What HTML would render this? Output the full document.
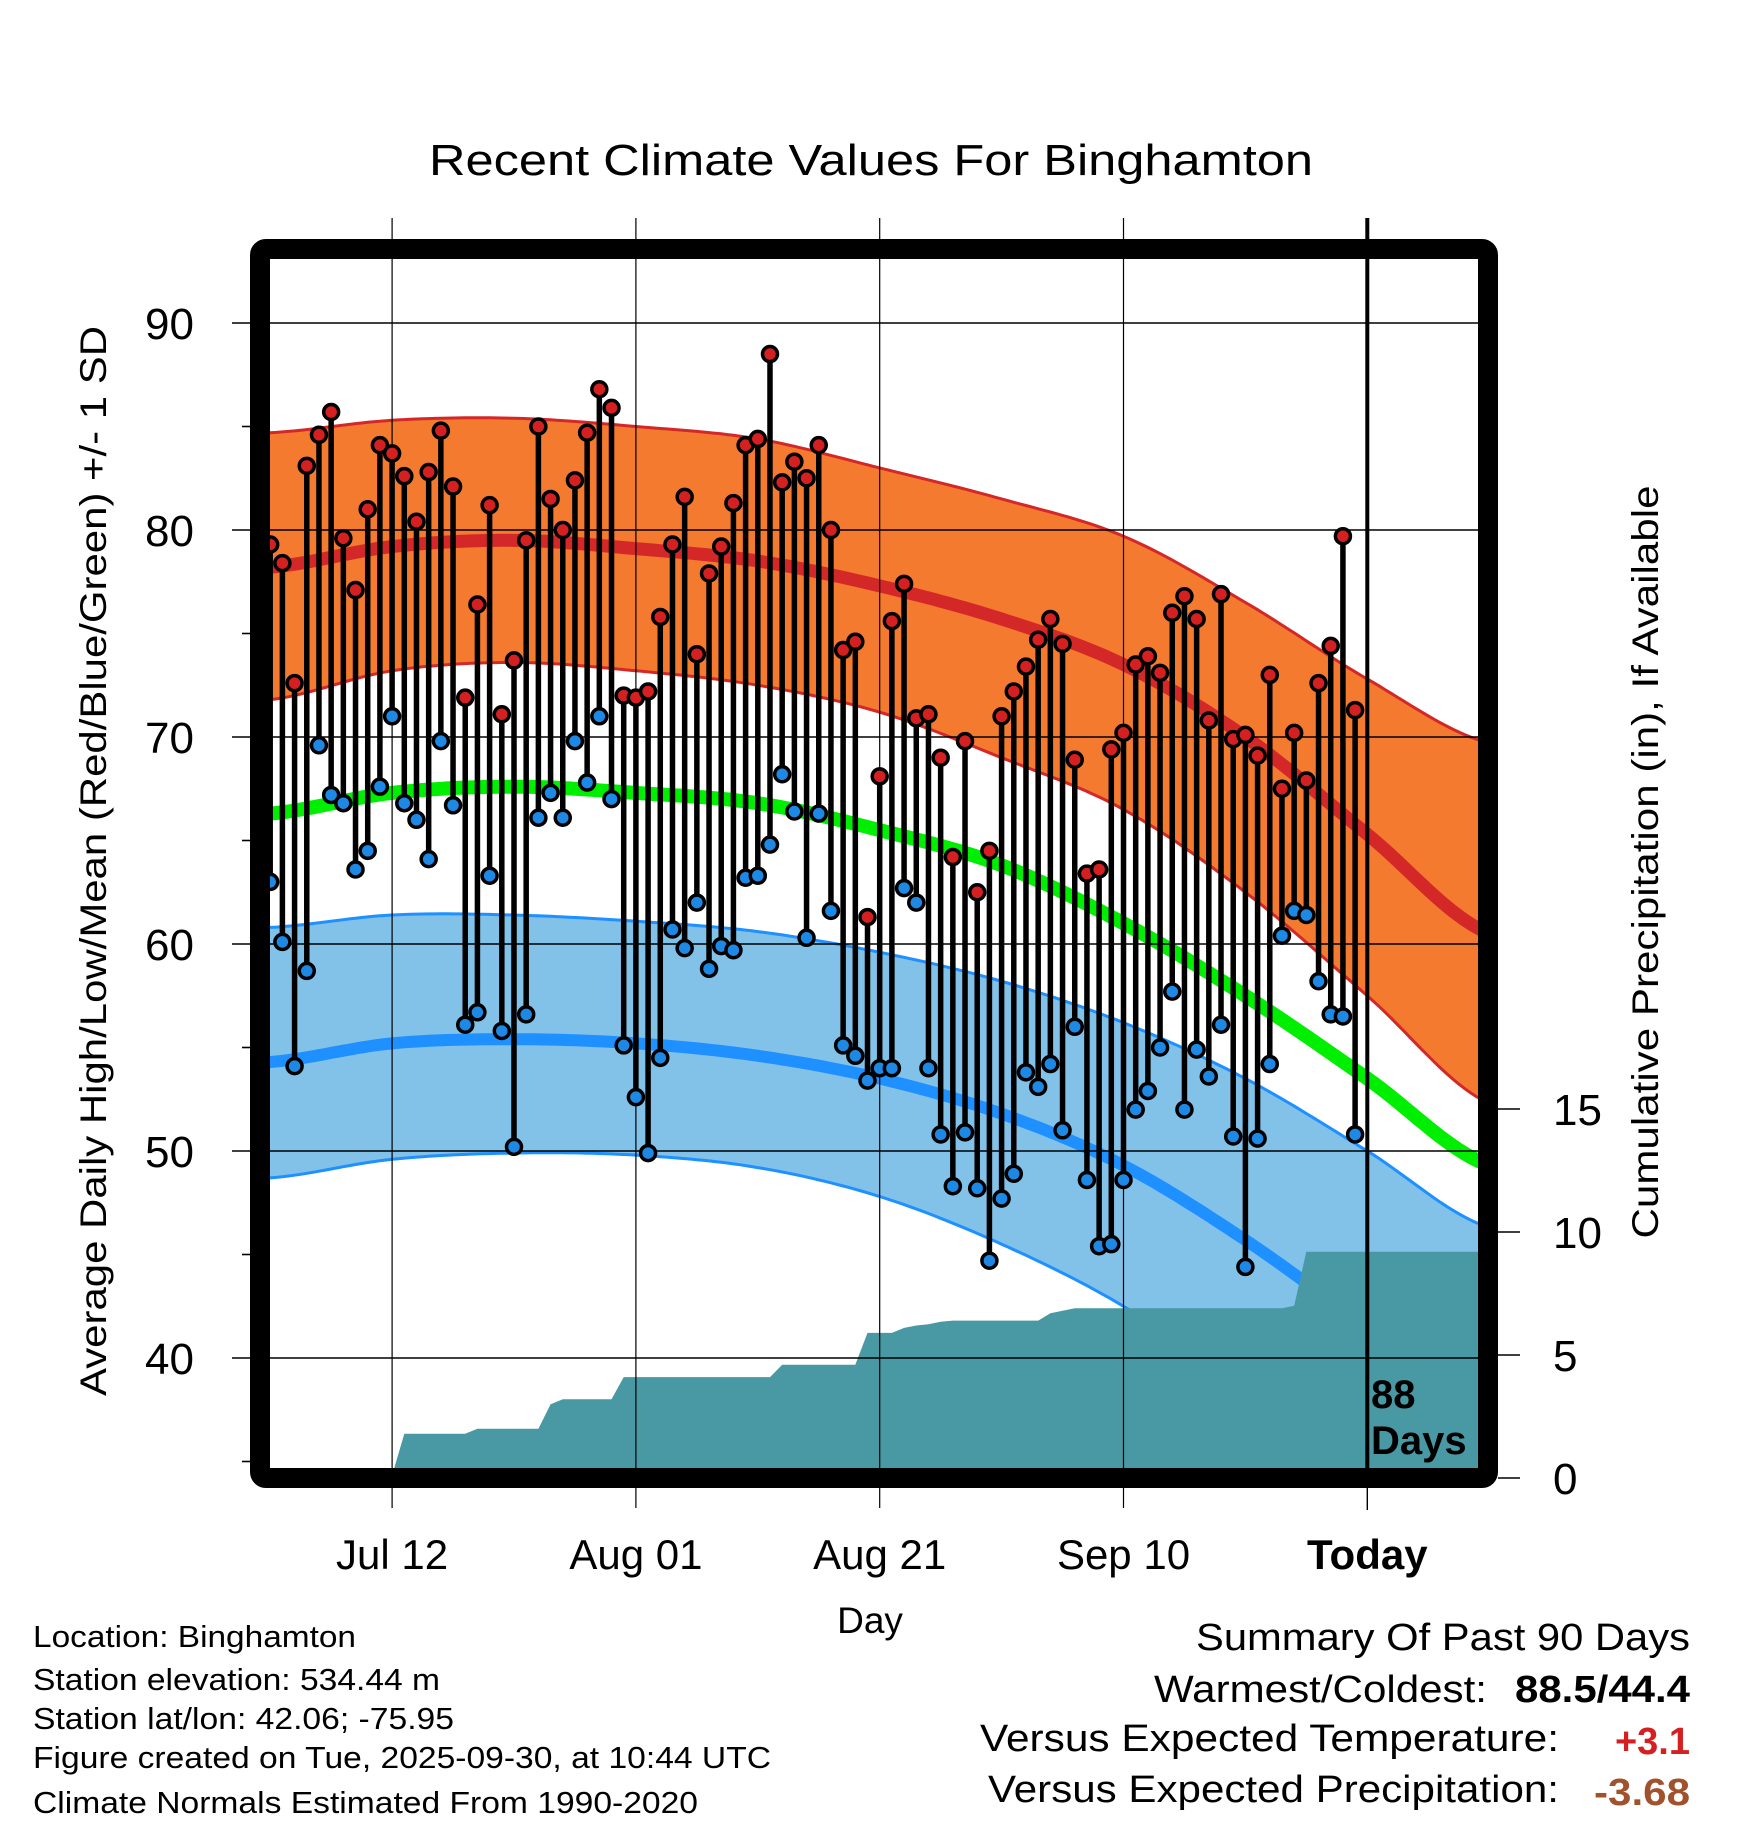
<!DOCTYPE html>
<html><head><meta charset="utf-8"><style>
html,body{margin:0;padding:0;background:#fff}
svg{display:block}
text{font-family:"Liberation Sans",Arial,sans-serif}
</style></head><body>
<svg id="chart" width="1748" height="1828" viewBox="0 0 1748 1828" xmlns="http://www.w3.org/2000/svg">
<defs><clipPath id="plotclip"><rect x="270" y="259" width="1208" height="1209"/></clipPath></defs>
<rect x="0" y="0" width="1748" height="1828" fill="#fff"/>
<text x="871" y="175" font-size="44" text-anchor="middle" textLength="884" lengthAdjust="spacingAndGlyphs">Recent Climate Values For Binghamton</text>
<g id="grid"></g>
<g id="plot" clip-path="url(#plotclip)"></g>
<g id="grid2"></g>
<g id="marks" clip-path="url(#plotclip)"></g>
<rect x="260" y="249" width="1228" height="1229" fill="none" stroke="#000" stroke-width="20" rx="6"/>
<g id="axes"></g>
<text transform="translate(106,861) rotate(-90)" font-size="37" text-anchor="middle" textLength="1070" lengthAdjust="spacingAndGlyphs">Average Daily High/Low/Mean (Red/Blue/Green) +/- 1 SD</text>
<text transform="translate(1658,862) rotate(-90)" font-size="37" text-anchor="middle" textLength="753" lengthAdjust="spacingAndGlyphs">Cumulative Precipitation (in), If Available</text>
<text x="870" y="1633" font-size="37" text-anchor="middle">Day</text>
<text x="1371" y="1408" font-size="40" font-weight="bold">88</text>
<text x="1371" y="1454" font-size="40" font-weight="bold">Days</text>
<g font-size="31">
<text x="33" y="1647" textLength="323" lengthAdjust="spacingAndGlyphs">Location: Binghamton</text>
<text x="33" y="1690" textLength="407" lengthAdjust="spacingAndGlyphs">Station elevation: 534.44 m</text>
<text x="33" y="1729" textLength="421" lengthAdjust="spacingAndGlyphs">Station lat/lon: 42.06; -75.95</text>
<text x="33" y="1768" textLength="738" lengthAdjust="spacingAndGlyphs">Figure created on Tue, 2025-09-30, at 10:44 UTC</text>
<text x="33" y="1813" textLength="665" lengthAdjust="spacingAndGlyphs">Climate Normals Estimated From 1990-2020</text>
</g>
<g font-size="38">
<text x="1690" y="1650" text-anchor="end" textLength="494" lengthAdjust="spacingAndGlyphs">Summary Of Past 90 Days</text>
<text x="1487" y="1702" text-anchor="end" textLength="333" lengthAdjust="spacingAndGlyphs">Warmest/Coldest:</text>
<text x="1690" y="1702" text-anchor="end" font-weight="bold" textLength="175" lengthAdjust="spacingAndGlyphs">88.5/44.4</text>
<text x="1559" y="1751" text-anchor="end" textLength="579" lengthAdjust="spacingAndGlyphs">Versus Expected Temperature:</text>
<text x="1690" y="1754" text-anchor="end" font-weight="bold" fill="#d42020" textLength="75" lengthAdjust="spacingAndGlyphs">+3.1</text>
<text x="1559" y="1802" text-anchor="end" textLength="571" lengthAdjust="spacingAndGlyphs">Versus Expected Precipitation:</text>
<text x="1690" y="1805" text-anchor="end" font-weight="bold" fill="#a0522d" textLength="96" lengthAdjust="spacingAndGlyphs">-3.68</text>
</g>
</svg>
<script>
var highs=[79.3,78.4,72.6,83.1,84.6,85.7,79.6,77.1,81.0,84.1,83.7,82.6,80.4,82.8,84.8,82.1,71.9,76.4,81.2,71.1,73.7,79.5,85.0,81.5,80.0,82.4,84.7,86.8,85.9,72.0,71.9,72.2,75.8,79.3,81.6,74.0,77.9,79.2,81.3,84.1,84.4,88.5,82.3,83.3,82.5,84.1,80.0,74.2,74.6,61.3,68.1,75.6,77.4,70.9,71.1,69.0,64.2,69.8,62.5,64.5,71.0,72.2,73.4,74.7,75.7,74.5,68.9,63.4,63.6,69.4,70.2,73.5,73.9,73.1,76.0,76.8,75.7,70.8,76.9,69.9,70.1,69.1,73.0,67.5,70.2,67.9,72.6,74.4,79.7,71.3];
var lows=[63.0,60.1,54.1,58.7,69.6,67.2,66.8,63.6,64.5,67.6,71.0,66.8,66.0,64.1,69.8,66.7,56.1,56.7,63.3,55.8,50.2,56.6,66.1,67.3,66.1,69.8,67.8,71.0,67.0,55.1,52.6,49.9,54.5,60.7,59.8,62.0,58.8,59.9,59.7,63.2,63.3,64.8,68.2,66.4,60.3,66.3,61.6,55.1,54.6,53.4,54.0,54.0,62.7,62.0,54.0,50.8,48.3,50.9,48.2,44.7,47.7,48.9,53.8,53.1,54.2,51.0,56.0,48.6,45.4,45.5,48.6,52.0,52.9,55.0,57.7,52.0,54.9,53.6,56.1,50.7,44.4,50.6,54.2,60.4,61.6,61.4,58.2,56.6,56.5,50.8];
var precip=[0,0,0,0,0,0,0.1,0.1,0.1,0.1,0.1,1.8,1.8,1.8,1.8,1.8,1.8,2.0,2.0,2.0,2.0,2.0,2.0,3.0,3.2,3.2,3.2,3.2,3.2,4.1,4.1,4.1,4.1,4.1,4.1,4.1,4.1,4.1,4.1,4.1,4.1,4.1,4.6,4.6,4.6,4.6,4.6,4.6,4.6,5.9,5.9,5.9,6.1,6.2,6.25,6.35,6.4,6.4,6.4,6.4,6.4,6.4,6.4,6.4,6.7,6.8,6.9,6.9,6.9,6.9,6.9,6.9,6.9,6.9,6.9,6.9,6.9,6.9,6.9,6.9,6.9,6.9,6.9,6.9,7.0,9.2,9.2,9.2,9.2,9.2];
var normDays=[0,10,20,30,40,50,60,70,80,90,100];
var normHigh=[78.2,79.2,79.5,79.1,78.5,77.3,75.7,73.5,70.0,65.3,60.5];
var highUpper=[84.7,85.3,85.4,85.0,84.4,83.0,81.5,79.7,76.5,72.8,69.7];
var highLower=[71.8,73.2,73.6,73.2,72.5,71.2,69.0,66.5,62.5,57.5,52.3];
var normMean=[66.3,67.3,67.6,67.3,66.8,65.5,63.8,61.0,57.5,53.5,49.3];
var lowUpper=[60.8,61.4,61.4,61.1,60.6,59.6,58.2,56.2,53.5,50.0,46.3];
var normLow=[54.3,55.2,55.4,55.2,54.6,53.5,51.8,49.3,45.7,41.5,37.5];
var lowLower=[48.7,49.6,49.9,49.8,49.2,47.8,45.5,42.5,38.5,34.0,30.0];
var tempTicks=[40,50,60,70,80,90];
var precipTicks=[0,5,10,15];
var xTickDays=[10,30,50,70,90];
var xTickLabels=["Jul 12","Aug 01","Aug 21","Sep 10","Today"];

var NS="http://www.w3.org/2000/svg";
function xs(d){return 270.2+d*12.19;}
function ys(t){return 323+(90-t)*20.7;}
function yp(p){return 1478-p*24.6;}
function mk(tag,attrs,parent){var e=document.createElementNS(NS,tag);for(var k in attrs)e.setAttribute(k,attrs[k]);parent.appendChild(e);return e;}
function interp(arr,d){
  var i=Math.min(Math.floor(d/10),arr.length-2),t=(d-normDays[i])/10;
  var p0=arr[Math.max(i-1,0)],p1=arr[i],p2=arr[i+1],p3=arr[Math.min(i+2,arr.length-1)];
  return 0.5*((2*p1)+(-p0+p2)*t+(2*p0-5*p1+4*p2-p3)*t*t+(-p0+3*p1-3*p2+p3)*t*t*t);
}
function pts(arr){var s=[];for(var d=-1;d<=100;d+=0.5)s.push([xs(d),ys(interp(arr,Math.max(d,0)))]);return s;}
function ptsStr(a){return a.map(function(p){return p[0].toFixed(1)+","+p[1].toFixed(1);}).join(" ");}
var plot=document.getElementById('plot');
function band(up,lo,fill,edge,name){
  var u=pts(up),l=pts(lo).reverse();
  var b=mk('polygon',{points:ptsStr(u.concat(l)),fill:fill},plot);
  
  
  var e1=mk('polyline',{points:ptsStr(u),fill:'none',stroke:edge,'stroke-width':3},plot);
  
  
  var e2=mk('polyline',{points:ptsStr(pts(lo)),fill:'none',stroke:edge,'stroke-width':3},plot);
  
  
}
function line(arr,color,w,name){
  var l=mk('polyline',{points:ptsStr(pts(arr)),fill:'none',stroke:color,'stroke-width':w},plot);
  
  
}
band(highUpper,highLower,'#f47a30','#d42828','high-sd-band');
band(lowUpper,lowLower,'#82c1e8','#1e90ff','low-sd-band');
line(normHigh,'#d42828',13,'normal-high-line');
line(normMean,'#00ee00',14,'normal-mean-line');
line(normLow,'#1e90ff',12,'normal-low-line');
var pp=[[xs(0)-5,yp(0)]];
precip.forEach(function(v,i){pp.push([xs(i),yp(v)]);});
pp.push([1480,yp(precip[precip.length-1])]);pp.push([1480,yp(0)]);
var pa=mk('polygon',{points:ptsStr(pp),fill:'#4899a4'},plot);


var g2=document.getElementById('grid2');
tempTicks.forEach(function(t){
  var l=mk('line',{x1:232,x2:1478,y1:ys(t),y2:ys(t),stroke:'#000','stroke-width':1.6},g2);
  
  
});
[35,45,55,65,75,85].forEach(function(t){
  var l=mk('line',{x1:242,x2:252,y1:ys(t),y2:ys(t),stroke:'#000','stroke-width':1.6},g2);
  
  
});
xTickDays.forEach(function(d,i){
  var w=(i==4)?4:1.2;
  var l=mk('line',{x1:xs(d),x2:xs(d),y1:218,y2:(i==4?1468:1508),stroke:'#000','stroke-width':w},g2);
  
  
  if(i==4){var t2=mk('line',{x1:xs(d),x2:xs(d),y1:1488,y2:1510,stroke:'#000','stroke-width':1.4},g2);
  
  }
});
var marks=document.getElementById('marks');
highs.forEach(function(h,i){
  var s=mk('line',{x1:xs(i),x2:xs(i),y1:ys(h),y2:ys(lows[i]),stroke:'#000','stroke-width':5.5},marks);
  
  
});
highs.forEach(function(h,i){
  var c=mk('circle',{cx:xs(i),cy:ys(h),r:7.5,fill:'#d42020',stroke:'#000','stroke-width':3.5},marks);
  
  
  var c2=mk('circle',{cx:xs(i),cy:ys(lows[i]),r:7.5,fill:'#1e88e5',stroke:'#000','stroke-width':3.5},marks);
  
  
});
var ax=document.getElementById('axes');
tempTicks.forEach(function(t){
  var tx=mk('text',{x:194,y:ys(t)+16,'font-size':44,'text-anchor':'end'},ax);tx.textContent=t;
  
  
});
precipTicks.forEach(function(p){
  var l=mk('line',{x1:1498,x2:1520,y1:yp(p),y2:yp(p),stroke:'#000','stroke-width':1.6},ax);
  
  
  var tx=mk('text',{x:1553,y:yp(p)+16,'font-size':44},ax);tx.textContent=p;
  
  
});
xTickDays.forEach(function(d,i){
  var tx=mk('text',{x:xs(d),y:1569,'font-size':42,'text-anchor':'middle','font-weight':(i==4?'bold':'normal')},ax);
  tx.textContent=xTickLabels[i];
  
  
});
</script>
</body></html>
